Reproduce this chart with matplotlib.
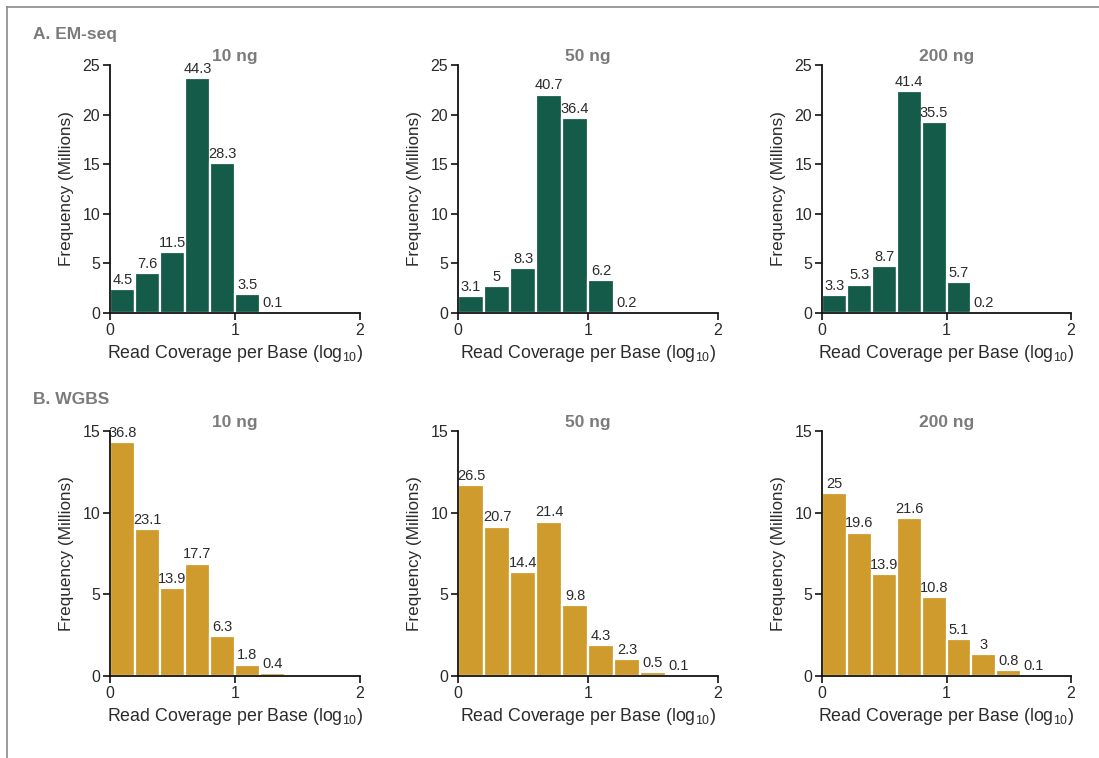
import matplotlib
matplotlib.use("Agg")
import matplotlib.pyplot as plt
from matplotlib.lines import Line2D

plt.rcParams["font.family"] = ["Liberation Sans", "DejaVu Sans"]
plt.rcParams["mathtext.fontset"] = "custom"
plt.rcParams["mathtext.rm"] = "Liberation Sans"
plt.rcParams["mathtext.default"] = "regular"

# Histogram bins: log10 read coverage, 0.2 wide, starting at 0
bin_width = 0.2
panel_titles = ["10 ng", "50 ng", "200 ng"]

# Share of bases per bin (%), and total bases per library (millions)
em_pct = [
    [4.5, 7.6, 11.5, 44.3, 28.3, 3.5, 0.1],
    [3.1, 5.0, 8.3, 40.7, 36.4, 6.2, 0.2],
    [3.3, 5.3, 8.7, 41.4, 35.5, 5.7, 0.2],
]
em_total = [53.5, 54.1, 54.1]

wgbs_pct = [
    [36.8, 23.1, 13.9, 17.7, 6.3, 1.8, 0.4, 0.02],
    [26.5, 20.7, 14.4, 21.4, 9.8, 4.3, 2.3, 0.5, 0.1],
    [25.0, 19.6, 13.9, 21.6, 10.8, 5.1, 3.0, 0.8, 0.1, 0.02],
]
wgbs_total = [38.9, 44.2, 44.8]

em_color = "#145c49"
wgbs_color = "#cf9b2c"
title_gray = "#7b7b7b"
text_dark = "#2b2b2b"

W, H = 1099, 758
fig = plt.figure(figsize=(W / 100, H / 100), dpi=100)

# Outer frame (top and left rules)
fig.add_artist(Line2D([7 / W, 1], [1 - 7 / H, 1 - 7 / H], color="#8a8a8a", lw=1.2,
                      transform=fig.transFigure))
fig.add_artist(Line2D([7 / W, 7 / W], [1 - 7 / H, 0], color="#8a8a8a", lw=1.2,
                      transform=fig.transFigure))

col_px = [(110, 250), (458, 260), (822, 249)]
rows = [
    dict(top=65, bottom=313, pct=em_pct, total=em_total, color=em_color, ymax=25,
         yticks=[0, 5, 10, 15, 20, 25], label="A. EM-seq", label_y=35),
    dict(top=431, bottom=676, pct=wgbs_pct, total=wgbs_total, color=wgbs_color, ymax=15,
         yticks=[0, 5, 10, 15], label="B. WGBS", label_y=400),
]

for row in rows:
    fig.text(33 / W, 1 - row["label_y"] / H, row["label"], fontsize=12.5, fontweight="bold",
             color=title_gray, ha="left", va="center")
    for j, (left, width) in enumerate(col_px):
        ax = fig.add_axes([left / W, 1 - row["bottom"] / H, width / W,
                           (row["bottom"] - row["top"]) / H])
        pct = row["pct"][j]
        heights = [p / 100 * row["total"][j] for p in pct]
        lefts = [k * bin_width for k in range(len(pct))]
        ax.bar(lefts, heights, width=bin_width, align="edge", color=row["color"],
               edgecolor="white", linewidth=1.6, zorder=2)
        for x0, h, p in zip(lefts, heights, pct):
            if p < 0.05:
                continue
            txt = f"{p:g}"
            ax.annotate(txt, (x0 + bin_width / 2, h), xytext=(0, 1.5),
                        textcoords="offset points", ha="center", va="bottom",
                        fontsize=10.5, color=text_dark, zorder=3)
        ax.set_xlim(0, 2)
        ax.set_ylim(0, row["ymax"])
        ax.set_xticks([0, 1, 2])
        ax.set_xticklabels(["0", "1", "2"])
        ax.set_yticks(row["yticks"])
        for s in ("top", "right"):
            ax.spines[s].set_visible(False)
        for s in ("left", "bottom"):
            ax.spines[s].set_linewidth(1.3)
            ax.spines[s].set_color("#111111")
            ax.spines[s].set_zorder(4)
        ax.tick_params(direction="out", length=5, width=1.2, labelsize=11.5,
                       colors="#111111", labelcolor=text_dark, pad=2)
        ax.set_ylabel("Frequency (Millions)", fontsize=12.3, color=text_dark, labelpad=6)
        ax.set_xlabel("Read Coverage per Base (log$_{10}$)", fontsize=12.8,
                      color=text_dark, labelpad=4)
        ax.set_title(panel_titles[j], fontsize=12.5, fontweight="bold", color=title_gray,
                     pad=3)
        ax.patch.set_visible(False)

fig.savefig("out.png", dpi=100, facecolor="white")
